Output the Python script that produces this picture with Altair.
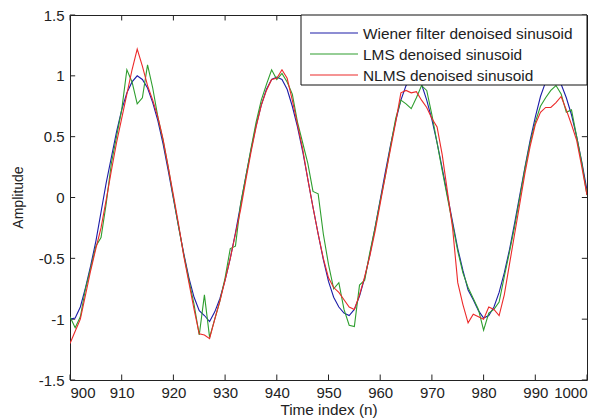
import altair as alt
import pandas as pd

time_index = list(range(900, 1001))

wiener = [
    -1.00, -0.99, -0.90, -0.74, -0.56, -0.36, -0.12, 0.12, 0.33, 0.54,
    0.72, 0.86, 0.95, 1.00, 0.97, 0.90, 0.78, 0.63, 0.44, 0.22,
    -0.01, -0.24, -0.46, -0.66, -0.82, -0.93, -0.97, -1.02, -0.94, -0.83,
    -0.68, -0.50, -0.29, -0.06, 0.17, 0.39, 0.59, 0.76, 0.89, 0.97,
    0.99, 0.97, 0.89, 0.75, 0.58, 0.38, 0.15, -0.08, -0.30, -0.51,
    -0.69, -0.82, -0.90, -0.95, -0.97, -0.92, -0.81, -0.66, -0.47, -0.25,
    -0.02, 0.21, 0.43, 0.63, 0.80, 0.92, 0.98, 1.00, 0.93, 0.80,
    0.64, 0.45, 0.24, 0.02, -0.20, -0.42, -0.60, -0.76, -0.84, -0.93,
    -0.99, -0.97, -0.90, -0.78, -0.62, -0.43, -0.21, 0.02, 0.25, 0.47,
    0.66, 0.83, 0.95, 1.00, 0.99, 0.93, 0.82, 0.68, 0.50, 0.29,
    0.06,
]

lms = [
    -0.98, -1.07, -0.98, -0.75, -0.58, -0.40, -0.33, -0.05, 0.28, 0.50,
    0.72, 1.05, 0.95, 0.77, 0.82, 1.09, 0.90, 0.66, 0.47, 0.25,
    0.00, -0.24, -0.47, -0.68, -0.88, -1.13, -0.80, -1.15, -1.00, -0.85,
    -0.66, -0.42, -0.40, -0.05, 0.17, 0.40, 0.62, 0.80, 0.93, 1.05,
    0.97, 1.02, 0.95, 0.85, 0.62, 0.45, 0.28, 0.05, 0.03, -0.30,
    -0.55, -0.75, -0.70, -0.92, -1.05, -1.06, -0.72, -0.68, -0.45, -0.25,
    -0.03, 0.18, 0.42, 0.65, 0.80, 0.77, 0.73, 0.82, 0.92, 0.88,
    0.68, 0.45, 0.22, 0.00, -0.22, -0.44, -0.62, -0.74, -0.83, -0.92,
    -1.09, -0.95, -0.92, -0.86, -0.65, -0.45, -0.24, 0.00, 0.24, 0.45,
    0.62, 0.75, 0.82, 0.88, 0.92, 0.85, 0.70, 0.72, 0.50, 0.28,
    0.02,
]

nlms = [
    -1.20, -1.10, -1.00, -0.80, -0.60, -0.42, -0.25, -0.02, 0.22, 0.45,
    0.65, 0.85, 1.05, 1.22, 1.08, 0.92, 0.80, 0.66, 0.48, 0.25,
    0.02, -0.22, -0.48, -0.70, -0.92, -1.12, -1.13, -1.16, -1.00, -0.85,
    -0.68, -0.50, -0.30, -0.10, 0.14, 0.37, 0.58, 0.76, 0.88, 0.97,
    0.98, 1.05, 0.98, 0.80, 0.60, 0.40, 0.15, -0.08, -0.30, -0.50,
    -0.66, -0.74, -0.78, -0.84, -0.90, -0.92, -0.80, -0.65, -0.48, -0.28,
    -0.05, 0.18, 0.40, 0.62, 0.86, 0.88, 0.86, 0.87, 0.80, 0.74,
    0.65, 0.58, 0.35, 0.05, -0.25, -0.70, -0.88, -1.03, -0.96, -0.98,
    -1.00, -0.90, -0.92, -0.97, -0.80, -0.55, -0.30, -0.05, 0.20, 0.42,
    0.60, 0.70, 0.74, 0.74, 0.78, 0.83, 0.72, 0.60, 0.47, 0.25,
    0.02,
]

series_names = [
    "Wiener filter denoised sinusoid",
    "LMS denoised sinusoid",
    "NLMS denoised sinusoid",
]
series_colors = ["#1c1ca8", "#2e9e2e", "#ec2a2a"]

x_ticks = list(range(900, 1001, 10))
y_ticks = [-1.5, -1.0, -0.5, 0.0, 0.5, 1.0, 1.5]

rows = []
for name, vals in zip(series_names, [wiener, lms, nlms]):
    for i, (t, v) in enumerate(zip(time_index, vals)):
        rows.append({"n": t, "value": v, "series": name, "order": i})
df = pd.DataFrame(rows)

FONT = "Liberation Sans"
TXT = "#222222"
xscale = alt.Scale(domain=[900, 1000], nice=False, zero=False)
yscale = alt.Scale(domain=[-1.5, 1.5], nice=False, zero=False)

lines = alt.Chart(df).mark_line(strokeWidth=1.1, clip=True).encode(
    x=alt.X(
        "n:Q",
        scale=xscale,
        axis=alt.Axis(
            values=x_ticks, title="Time index (n)", ticks=False, tickSize=0,
            domain=False, grid=False, labelPadding=5, labelFontSize=15,
            labelFont=FONT, labelColor=TXT, labelExpr="datum.value + ''",
            titleFont=FONT, titleFontSize=15.3, titleFontWeight="normal",
            titleColor=TXT, titleY=29, titleBaseline="middle",
        ),
    ),
    y=alt.Y(
        "value:Q",
        scale=yscale,
        axis=alt.Axis(
            values=y_ticks, title="Amplitude", ticks=False, tickSize=0,
            domain=False, grid=False, labelPadding=6, labelFontSize=15,
            labelFont=FONT, labelColor=TXT, labelExpr="datum.value + ''",
            titleFont=FONT, titleFontSize=14, titleFontWeight="normal",
            titleColor=TXT, titleX=-52, titleY=182, titleBaseline="middle",
        ),
    ),
    color=alt.Color(
        "series:N",
        scale=alt.Scale(domain=series_names, range=series_colors),
        legend=None,
    ),
    detail="series:N",
    order="order:Q",
)

# inward MATLAB-style ticks
xt = pd.DataFrame({"t": x_ticks})
yt = pd.DataFrame({"t": y_ticks})
tick_len_y = 0.045
tick_len_x = 1.0
xt["b0"], xt["b1"] = -1.5, -1.5 + tick_len_y
xt["t0"], xt["t1"] = 1.5, 1.5 - tick_len_y
yt["l0"], yt["l1"] = 900, 900 + tick_len_x
yt["r0"], yt["r1"] = 1000, 1000 - tick_len_x

tick_style = dict(color=TXT, strokeWidth=1)
bottom_ticks = alt.Chart(xt).mark_rule(**tick_style).encode(
    x=alt.X("t:Q", scale=xscale), y=alt.Y("b0:Q", scale=yscale), y2="b1:Q")
top_ticks = alt.Chart(xt).mark_rule(**tick_style).encode(
    x=alt.X("t:Q", scale=xscale), y=alt.Y("t0:Q", scale=yscale), y2="t1:Q")
left_ticks = alt.Chart(yt).mark_rule(**tick_style).encode(
    y=alt.Y("t:Q", scale=yscale), x=alt.X("l0:Q", scale=xscale), x2="l1:Q")
right_ticks = alt.Chart(yt).mark_rule(**tick_style).encode(
    y=alt.Y("t:Q", scale=yscale), x=alt.X("r0:Q", scale=xscale), x2="r1:Q")

# legend box (MATLAB style, inside the top-right corner)
one = pd.DataFrame({"k": [0]})
LX0, LX1, LY0, LY1 = 231, 517, 0, 70
legend_layers = [
    alt.Chart(one).mark_rect(fill="white", stroke="#111111", strokeWidth=1).encode(
        x=alt.value(LX0), x2=alt.value(LX1), y=alt.value(LY0), y2=alt.value(LY1)
    )
]
for i, (name, col) in enumerate(zip(series_names, series_colors)):
    yy = 18 + 21 * i
    legend_layers.append(
        alt.Chart(one).mark_rule(color=col, strokeWidth=1.2).encode(
            x=alt.value(LX0 + 9), x2=alt.value(LX0 + 57), y=alt.value(yy)
        )
    )
    legend_layers.append(
        alt.Chart(one).mark_text(
            text=name, align="left", baseline="middle", font=FONT,
            fontSize=15.4, color=TXT,
        ).encode(x=alt.value(LX0 + 62), y=alt.value(yy + 0.5))
    )

chart = (
    alt.layer(bottom_ticks, top_ticks, left_ticks, right_ticks, lines, *legend_layers)
    .properties(
        width=517, height=365,
        autosize=alt.AutoSizeParams(type="none"),
        padding={"left": 62, "top": 7, "right": 17, "bottom": 38},
        background="white",
    )
    .configure_view(stroke=TXT, strokeWidth=1)
)

chart.save("out.html", embed_options={"renderer": "svg", "actions": False})
